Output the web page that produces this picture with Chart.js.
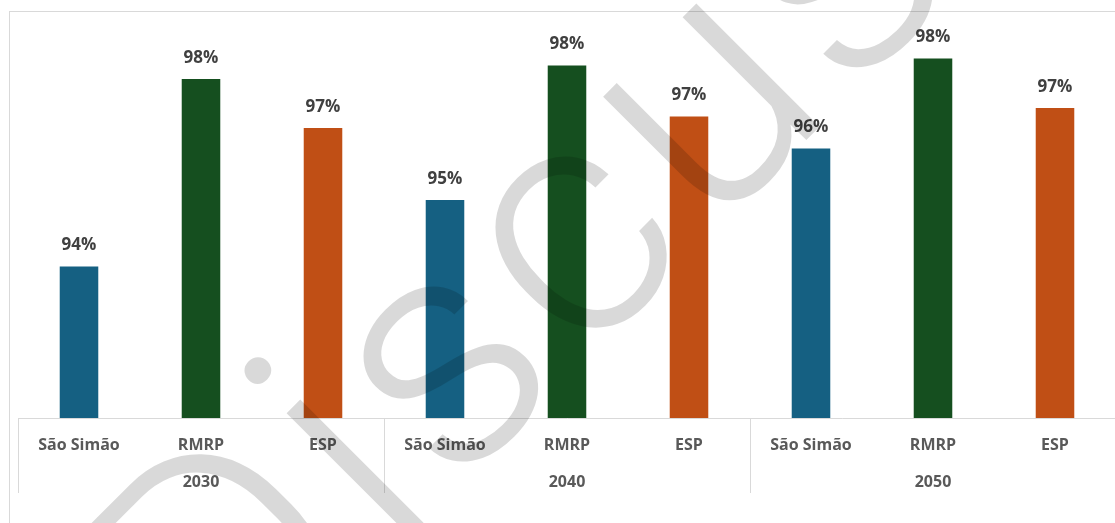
<!DOCTYPE html>
<html>
<head>
<meta charset="utf-8">
<script src="https://cdn.jsdelivr.net/npm/chart.js@4.4.1/dist/chart.umd.min.js"></script>
<style>
  html, body { margin: 0; padding: 0; background: #fff; overflow: hidden; }
  #wrap { width: 1135px; height: 523px; }
</style>
</head>
<body>
<div id="wrap"><canvas id="chart" width="1135" height="523"></canvas></div>
<script>
// categories & values
const categories = ['São Simão', 'RMRP', 'ESP', 'São Simão', 'RMRP', 'ESP', 'São Simão', 'RMRP', 'ESP'];
const years = ['2030', '2040', '2050'];
const coverage = [0.9403, 0.9778, 0.9680, 0.9536, 0.9805, 0.9703, 0.9639, 0.9819, 0.9720];
const regionColors = ['#156082', '#154f1f', '#c04f15'];
const watermark = 'Discussion';

const barColors = categories.map((c, i) => regionColors[i % 3]);

// group labels, separators, frame, value labels, watermark
const decorPlugin = {
    id: 'decor',
    afterDatasetsDraw(chart) {
        const ctx = chart.ctx;
        const meta = chart.getDatasetMeta(0);
        ctx.save();
        ctx.font = 'bold 17px "Open Sans"';
        ctx.fillStyle = '#404040';
        ctx.textAlign = 'center';
        ctx.textBaseline = 'middle';
        meta.data.forEach((bar, i) => {
            ctx.fillText(Math.round(coverage[i] * 100) + '%', bar.x, bar.y - 21);
        });
        ctx.restore();
    },
    afterDraw(chart) {
        const ctx = chart.ctx;
        const x = chart.scales.x;
        const area = chart.chartArea;
        ctx.save();

        // outer frame
        ctx.strokeStyle = '#d9d9d9';
        ctx.lineWidth = 1;
        ctx.strokeRect(9.5, 11.5, 1300, 700);

        // group separators
        const half = (x.getPixelForValue(1) - x.getPixelForValue(0)) / 2;
        for (let g = 0; g <= years.length; g++) {
            const px = Math.round(x.getPixelForValue(g * 3) - half) + 0.5;
            ctx.beginPath();
            ctx.moveTo(px, area.bottom);
            ctx.lineTo(px, area.bottom + 75);
            ctx.stroke();
        }

        // year labels
        ctx.font = 'bold 16px "Open Sans"';
        ctx.fillStyle = '#595959';
        ctx.textAlign = 'center';
        ctx.textBaseline = 'middle';
        years.forEach((y, g) => {
            ctx.fillText(y, x.getPixelForValue(g * 3 + 1), area.bottom + 64);
        });
        ctx.restore();

        // watermark, anchored on the centre of the "c"
        ctx.save();
        const fs = 330;
        ctx.font = '300 ' + fs + 'px Roboto';
        ctx.fillStyle = 'rgba(0,0,0,0.15)';
        ctx.textAlign = 'left';
        ctx.textBaseline = 'alphabetic';
        const ls = 13;
        const w = ch => ctx.measureText(ch).width;
        let off = 0;
        for (let k = 0; k < 3; k++) off += w(watermark[k]) + ls;
        off += w('c') / 2;
        ctx.translate(579, 246);
        ctx.rotate(-Math.PI / 4);
        let cx = -off;
        for (const ch of watermark) {
            ctx.fillText(ch, cx, fs * 0.26);
            cx += w(ch) + ls;
        }
        ctx.restore();
    }
};

new Chart(document.getElementById('chart'), {
    type: 'bar',
    data: {
        labels: categories,
        datasets: [{
            data: coverage,
            backgroundColor: barColors,
            borderWidth: 0,
            categoryPercentage: 1,
            barPercentage: 0.316
        }]
    },
    options: {
        responsive: false,
        devicePixelRatio: 1,
        animation: false,
        layout: { padding: { left: 18, top: 18, right: 19, bottom: 0 } },
        plugins: { legend: { display: false }, tooltip: { enabled: false } },
        scales: {
            x: {
                grid: { display: false, drawTicks: false },
                border: { display: true, color: '#d9d9d9', width: 1 },
                ticks: {
                    color: '#595959',
                    font: { family: '"Open Sans"', size: 16, weight: 'bold' },
                    padding: 18,
                    maxRotation: 0,
                    autoSkip: false
                },
                afterFit(scale) { scale.height = 105; }
            },
            y: {
                display: false,
                min: 0.91,
                max: 0.99
            }
        }
    },
    plugins: [decorPlugin]
});
</script>
</body>
</html>
